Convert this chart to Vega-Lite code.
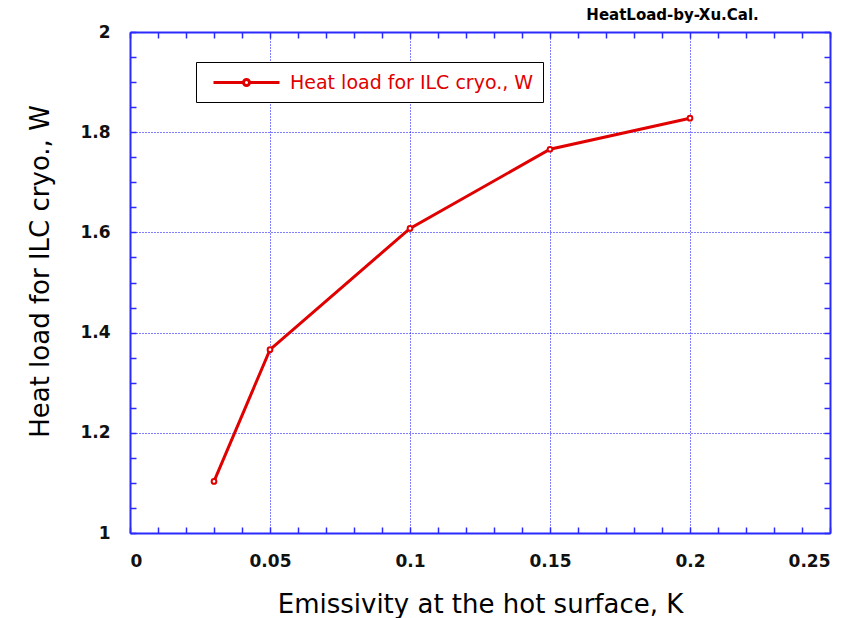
{
  "$schema": "https://vega.github.io/schema/vega-lite/v6.json",
  "width": 700,
  "height": 501,
  "autosize": {"type": "none"},
  "padding": {"left": 130, "top": 32, "right": 35, "bottom": 85},
  "background": "white",
  "title": {
    "text": "HeatLoad-by-Xu.Cal.",
    "anchor": "end",
    "dx": -72,
    "offset": 0,
    "fontSize": 15,
    "fontWeight": "bold",
    "font": "DejaVu Sans",
    "color": "black"
  },
  "data": {
    "values": [
      {"emissivity": 0.03, "heat": 1.103, "series": "Heat load for ILC cryo., W"},
      {"emissivity": 0.05, "heat": 1.366, "series": "Heat load for ILC cryo., W"},
      {"emissivity": 0.1, "heat": 1.608, "series": "Heat load for ILC cryo., W"},
      {"emissivity": 0.15, "heat": 1.766, "series": "Heat load for ILC cryo., W"},
      {"emissivity": 0.2, "heat": 1.828, "series": "Heat load for ILC cryo., W"}
    ]
  },
  "config": {
    "view": {"stroke": null},
    "axis": {
      "domainColor": "#2a2aff",
      "domainWidth": 2,
      "tickColor": "#2a2aff",
      "tickWidth": 1.5,
      "tickSize": -6,
      "labelFont": "DejaVu Sans",
      "labelFontSize": 17,
      "labelFontWeight": "bold",
      "labelColor": "#111111",
      "titleFont": "DejaVu Sans",
      "titleFontSize": 26,
      "titleFontWeight": "normal",
      "titleColor": "black"
    }
  },
  "resolve": {"axis": {"x": "independent", "y": "independent"}},
  "layer": [
    {
      "mark": {"type": "point", "opacity": 0},
      "encoding": {
        "x": {
          "field": "emissivity", "type": "quantitative",
          "scale": {"domain": [0, 0.25], "nice": false, "zero": false},
          "axis": {"orient": "bottom", "values": [0, 0.05, 0.1, 0.15, 0.2, 0.25], "grid": true, "gridColor": "#0000ff", "gridDash": [1, 2], "gridWidth": 1, "ticks": false, "labels": false, "domain": false, "title": null}
        },
        "y": {
          "field": "heat", "type": "quantitative",
          "scale": {"domain": [1, 2], "nice": false, "zero": false},
          "axis": {"orient": "left", "values": [1, 1.2, 1.4, 1.6, 1.8, 2], "grid": true, "gridColor": "#0000ff", "gridDash": [1, 2], "gridWidth": 1, "ticks": false, "labels": false, "domain": false, "title": null}
        }
      }
    },
    {
      "mark": {"type": "point", "opacity": 0},
      "encoding": {
        "x": {
          "field": "emissivity", "type": "quantitative",
          "axis": {"orient": "top", "values": [0, 0.01, 0.02, 0.03, 0.04, 0.05, 0.06, 0.07, 0.08, 0.09, 0.1, 0.11, 0.12, 0.13, 0.14, 0.15, 0.16, 0.17, 0.18, 0.19, 0.2, 0.21, 0.22, 0.23, 0.24, 0.25], "grid": false, "labels": false, "title": null}
        },
        "y": {
          "field": "heat", "type": "quantitative",
          "axis": {"orient": "right", "values": [1, 1.05, 1.1, 1.15, 1.2, 1.25, 1.3, 1.35, 1.4, 1.45, 1.5, 1.55, 1.6, 1.65, 1.7, 1.75, 1.8, 1.85, 1.9, 1.95, 2], "grid": false, "labels": false, "title": null}
        }
      }
    },
    {
      "mark": {"type": "line", "strokeWidth": 3, "point": {"filled": false, "fill": "white", "size": 22, "strokeWidth": 2}},
      "encoding": {
        "x": {
          "field": "emissivity", "type": "quantitative",
          "axis": {"orient": "bottom", "values": [0, 0.01, 0.02, 0.03, 0.04, 0.05, 0.06, 0.07, 0.08, 0.09, 0.1, 0.11, 0.12, 0.13, 0.14, 0.15, 0.16, 0.17, 0.18, 0.19, 0.2, 0.21, 0.22, 0.23, 0.24, 0.25], "grid": false, "labelPadding": 26, "labelExpr": "round(datum.value*100) % 5 == 0 ? format(datum.value, '~g') : ''", "title": "Emissivity at the hot surface, K", "titlePadding": 22}
        },
        "y": {
          "field": "heat", "type": "quantitative",
          "axis": {"orient": "left", "values": [1, 1.05, 1.1, 1.15, 1.2, 1.25, 1.3, 1.35, 1.4, 1.45, 1.5, 1.55, 1.6, 1.65, 1.7, 1.75, 1.8, 1.85, 1.9, 1.95, 2], "grid": false, "labelPadding": 26, "labelExpr": "round(datum.value*100) % 20 == 0 ? format(datum.value, '~g') : ''", "title": "Heat load for ILC cryo., W", "titlePadding": 26, "titleY": 239}
        },
        "color": {
          "field": "series", "type": "nominal",
          "scale": {"range": ["#e00000"]},
          "legend": {
            "orient": "none",
            "legendX": 66,
            "legendY": 30,
            "title": null,
            "strokeColor": "black",
            "fillColor": "white",
            "padding": 9,
            "labelFontSize": 19,
            "labelFont": "DejaVu Sans",
            "labelColor": "#e00000",
            "labelLimit": 500,
            "labelOffset": 62,
            "symbolType": "M-0.3,0H2.7M3.3,0H6.3M2.7,0A0.3,0.3 0 1,0 3.3,0A0.3,0.3 0 1,0 2.7,0",
            "symbolSize": 400,
            "symbolStrokeWidth": 3,
            "symbolFillColor": "white",
            "symbolStrokeColor": "#e00000"
          }
        }
      }
    }
  ]
}
